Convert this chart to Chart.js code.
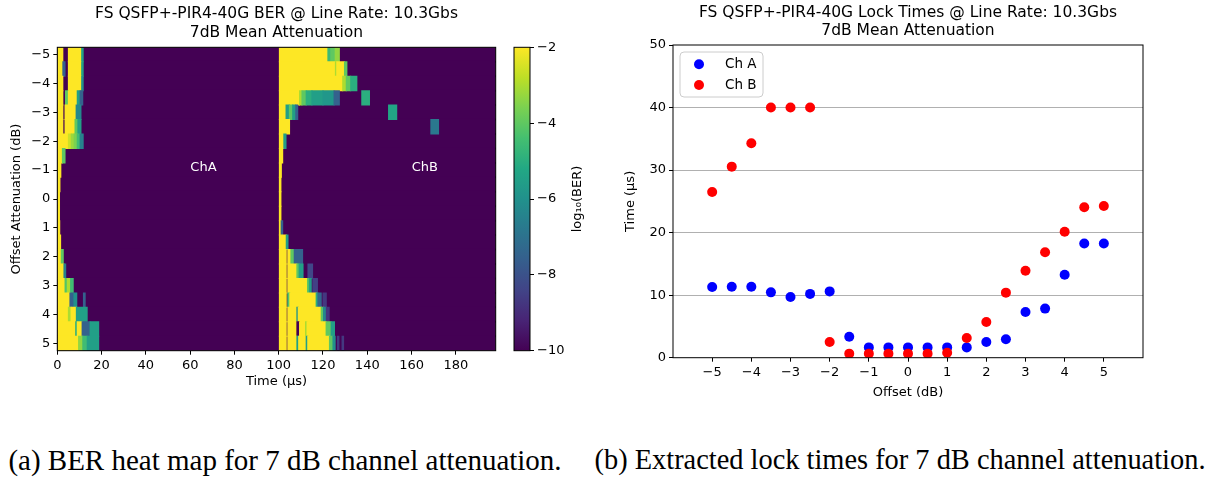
<!DOCTYPE html>
<html>
<head>
<meta charset="utf-8">
<script src="https://cdn.jsdelivr.net/npm/chart.js@4.4.1/dist/chart.umd.min.js"></script>
<style>
  html, body { margin: 0; padding: 0; background: #fff; overflow: hidden; width: 1214px; height: 477px; }
  canvas { position: absolute; top: 0; display: block; }
  .cap { position: absolute; top: 444px; font-family: 'Liberation Serif', 'Times New Roman', serif;
         line-height: 1.107; white-space: nowrap; transform: translateX(-50%); color: #000; }
</style>
</head>
<body>
<canvas id="ber" width="553" height="400" style="left:0"></canvas>
<canvas id="cbar" width="100" height="400" style="left:500px"></canvas>
<canvas id="lock" width="596" height="410" style="left:610px"></canvas>
<div class="cap" style="left:285px;font-size:29px">(a) BER heat map for 7 dB channel attenuation.</div>
<div class="cap" style="left:900px;font-size:28.4px">(b) Extracted lock times for 7 dB channel attenuation.</div>
<script>
// ---- heat map: offset rows and log10(BER) runs [tStart, tEnd, log10BER] per row ----
const offsets = [-5, -4.5, -4, -3.5, -3, -2.5, -2, -1.5, -1, -0.5, 0, 0.5, 1, 1.5, 2, 2.5, 3, 3.5, 4, 4.5, 5];

const chA = [
  [[0, 2.5, -2], [5.0, 11.0, -2], [11.0, 11.7, -5.5]],
  [[0, 2.5, -2], [2.5, 3.5, -7.5], [5.0, 11.0, -2], [11.0, 11.7, -5.5]],
  [[0, 2.5, -2], [5.0, 11.0, -2], [11.0, 11.7, -6]],
  [[0, 2.5, -2], [3.7, 5.0, -4], [5.0, 9.0, -2], [9.0, 10.3, -5.5], [10.3, 11.5, -7.5]],
  [[0, 2.5, -2], [3.5, 8.5, -2], [8.5, 10.7, -6.3]],
  [[0, 2.5, -2], [3.5, 8.0, -2], [8.0, 9.3, -4], [9.3, 10.7, -5.5]],
  [[0, 5.0, -2], [5.0, 6.3, -2.6], [6.3, 7.6, -3.2], [7.6, 9.0, -3.6], [9.0, 10.3, -4.5], [10.3, 11.7, -6.5]],
  [[0, 2.3, -2], [2.3, 3.5, -4]],
  [[0, 1.6, -2]],
  [[0, 1.2, -2]],
  [[0, 1.0, -2]],
  [[0, 1.0, -2]],
  [[0, 1.1, -2]],
  [[0, 1.5, -2]],
  [[0, 1.8, -2], [1.8, 2.7, -4]],
  [[0, 3.0, -2], [3.0, 3.8, -6.5]],
  [[0, 3.5, -2], [3.5, 4.5, -4.2], [4.5, 6.0, -3], [6.0, 7.2, -4.5]],
  [[0, 5.7, -2], [5.7, 7.5, -7.5], [7.5, 8.8, -6], [11.8, 12.6, -7.5]],
  [[0, 5.0, -2], [5.0, 6.2, -3], [6.2, 8.6, -2], [8.6, 13.5, -5.5]],
  [[0, 8.3, -2], [8.3, 9.0, -5], [9.0, 11.2, -2], [11.2, 14.8, -7.5], [14.8, 18.7, -5.5]],
  [[0, 9.6, -2], [9.6, 11.5, -3.3], [11.5, 13.5, -4.5], [13.5, 18.7, -5.5]]
];

const chB = [
  [[100.3, 122.2, -2], [122.2, 123.5, -4.6], [123.5, 125.5, -4], [125.5, 127.4, -3.3]],
  [[100.3, 125.6, -2], [125.6, 126.2, -3], [126.2, 129.7, -2], [129.7, 130.8, -4]],
  [[100.3, 128.9, -2], [128.9, 130.5, -3], [130.5, 132.5, -4], [132.5, 135.3, -5]],
  [[100.3, 109.4, -2], [109.4, 110.5, -3], [110.5, 112.4, -4], [112.4, 115.0, -5], [115.0, 120.0, -5.5],
   [120.0, 125.0, -5.8], [125.0, 127.4, -7.5], [137.5, 141.0, -5]],
  [[100.3, 103.3, -2], [103.3, 104.8, -5.5], [104.8, 106.3, -4], [106.3, 107.7, -5.5], [107.7, 108.6, -7.5], [149.6, 153.3, -5.3]],
  [[100.3, 104.9, -2], [168.7, 172.2, -6.8]],
  [[100.3, 102.3, -2], [102.3, 103.3, -5.5]],
  [[100.3, 101.8, -2]],
  [[100.3, 101.2, -2]],
  [[100.3, 101.0, -2]],
  [[100.3, 101.0, -2]],
  [[100.3, 101.0, -2]],
  [[100.3, 101.1, -2], [101.1, 101.8, -7.5]],
  [[100.3, 103.4, -2], [103.4, 104.2, -5.5]],
  [[100.3, 103.4, -2], [104.1, 105.5, -2], [105.5, 107.0, -4], [107.0, 110.8, -7.5]],
  [[100.3, 103.4, -2], [104.1, 108.2, -2], [108.2, 109.2, -4], [109.2, 111.0, -5.5], [113.2, 115.3, -8.3]],
  [[100.3, 103.4, -2], [104.1, 113.0, -2], [113.0, 113.8, -4], [113.8, 114.7, -5.5], [115.4, 117.5, -8.5]],
  [[100.3, 103.4, -2], [104.1, 105.0, -4.2], [105.0, 116.9, -2], [116.9, 117.7, -5], [117.7, 119.2, -7.3], [120.0, 121.5, -8.7]],
  [[100.3, 103.4, -2], [104.1, 108.2, -2], [108.2, 108.8, -6], [108.8, 119.2, -2], [119.2, 120.2, -4],
   [120.2, 121.5, -6.3], [121.5, 122.8, -8.8]],
  [[100.3, 103.4, -2], [104.1, 108.2, -2], [108.2, 109.4, -10], [109.4, 112.1, -2], [112.1, 112.8, -3],
   [112.8, 121.4, -2], [121.4, 123.7, -4], [123.7, 125.2, -5.5]],
  [[100.3, 103.4, -2], [104.1, 108.2, -2], [108.2, 109.0, -5.5], [109.0, 112.4, -2], [112.4, 113.1, -5.5],
   [113.1, 122.9, -2], [122.9, 124.5, -4], [124.5, 125.5, -6], [126.5, 127.2, -8.7], [128.6, 129.3, -8.7]]
];

const berFloor = -10;
const timeRange = [0, 198];
const timeTicks = [0, 20, 40, 60, 80, 100, 120, 140, 160, 180];
const offsetTicks = [-5, -4, -3, -2, -1, 0, 1, 2, 3, 4, 5];
const cbTicks = [-10, -8, -6, -4, -2];
const chNames = [{ text: 'ChA', t: 66, o: -1.1 }, { text: 'ChB', t: 166, o: -1.1 }];

// ---- lock times (µs) per offset ----
const lockOffsets = [-5, -4.5, -4, -3.5, -3, -2.5, -2, -1.5, -1, -0.5, 0, 0.5, 1, 1.5, 2, 2.5, 3, 3.5, 4, 4.5, 5];
const lockA = [11.3, 11.35, 11.35, 10.45, 9.7, 10.2, 10.6, 3.35, 1.65, 1.65, 1.65, 1.65, 1.65, 1.65, 2.5, 2.95, 7.3, 7.85, 13.25, 18.25, 18.25];
const lockB = [26.5, 30.55, 34.3, 40, 40, 40, 2.5, 0.65, 0.65, 0.65, 0.65, 0.65, 0.8, 3.15, 5.7, 10.4, 13.9, 16.85, 20.15, 24.05, 24.25];
const lockXTicks = [-5, -4, -3, -2, -1, 0, 1, 2, 3, 4, 5];
const lockYTicks = [0, 10, 20, 30, 40, 50];

// ---- viridis colour map ----
const VIRIDIS = ['#440154', '#482475', '#414487', '#355f8d', '#2a788e', '#21918c',
                 '#22a884', '#44bf70', '#7ad151', '#bddf26', '#fde725'];
const hexRgb = h => [1, 3, 5].map(i => parseInt(h.slice(i, i + 2), 16));
function viridis(v) {
  let f = (v - cbTicks[0]) / (cbTicks[cbTicks.length - 1] - cbTicks[0]);
  f = Math.max(0, Math.min(1, f)) * (VIRIDIS.length - 1);
  const i = Math.min(Math.floor(f), VIRIDIS.length - 2), w = f - i;
  const a = hexRgb(VIRIDIS[i]), b = hexRgb(VIRIDIS[i + 1]);
  const c = a.map((x, k) => Math.round(x + (b[k] - x) * w));
  return `rgb(${c[0]},${c[1]},${c[2]})`;
}
const cellColor = c => (c.raw ? viridis(c.raw.v) : VIRIDIS[0]);
const fmt = v => (v < 0 ? '\u2212' + Math.abs(v) : String(v));

Chart.defaults.font.family = "'DejaVu Sans', sans-serif";
Chart.defaults.font.size = 13;
Chart.defaults.color = '#000';

// black box round the plot area
const framePlugin = {
  id: 'frame',
  afterDraw(chart) {
    const a = chart.chartArea, ctx = chart.ctx;
    ctx.save();
    ctx.strokeStyle = '#000';
    ctx.lineWidth = 1;
    ctx.strokeRect(a.left, a.top, a.right - a.left, a.bottom - a.top);
    ctx.restore();
  }
};

// two-line title centred over the plot area (not the whole canvas)
const areaTitle = {
  id: 'areaTitle',
  afterDraw(chart, args, opts) {
    if (!opts.lines) return;
    const { ctx, chartArea: a } = chart;
    ctx.save();
    ctx.fillStyle = '#000';
    ctx.font = `${opts.size}px 'DejaVu Sans'`;
    ctx.textAlign = 'center';
    ctx.textBaseline = 'middle';
    opts.lines.forEach((t, i) => ctx.fillText(t, (a.left + a.right) / 2, opts.y[i]));
    ctx.restore();
  }
};

const tickGrid = { drawOnChartArea: false, tickLength: 4, tickColor: '#000', tickWidth: 1, offset: false };
const setTicks = vals => s => { s.ticks = vals.map(v => ({ value: v })); };

// ---- heat map ----
const toBars = rows => rows.flatMap((row, i) => row.map(s => ({ y: offsets[i], x: [s[0], s[1]], v: s[2] })));
const channelLabels = {
  id: 'channelLabels',
  afterDatasetsDraw(chart) {
    const { ctx, scales: { x, y } } = chart;
    ctx.save();
    ctx.fillStyle = '#fff';
    ctx.font = "13px 'DejaVu Sans'";
    ctx.textAlign = 'center';
    ctx.textBaseline = 'middle';
    chNames.forEach(n => ctx.fillText(n.text, x.getPixelForValue(n.t), y.getPixelForValue(n.o)));
    ctx.restore();
  }
};

const cellStyle = { backgroundColor: cellColor, borderWidth: 0, grouped: false, barPercentage: 1,
                    categoryPercentage: 1, inflateAmount: 0.5 };

new Chart(document.getElementById('ber'), {
  type: 'bar',
  data: {
    datasets: [
      { label: 'ChA', data: toBars(chA), order: 0, ...cellStyle },
      { label: 'ChB', data: toBars(chB), order: 0, ...cellStyle },
      { label: 'floor', data: offsets.map(o => ({ y: o, x: timeRange.slice(), v: berFloor })), order: 1,
        ...cellStyle, inflateAmount: 1 }
    ]
  },
  options: {
    responsive: false, animation: false, indexAxis: 'y',
    layout: { padding: { left: 0, right: 57.3, top: 47.3, bottom: 0 } },
    plugins: {
      colors: { enabled: false },
      legend: { display: false }, tooltip: { enabled: false }, title: { display: false },
      areaTitle: { lines: ['FS QSFP+-PIR4-40G BER @ Line Rate: 10.3Gbs', '7dB Mean Attenuation'],
                   size: 15.5, y: [14, 32.5] }
    },
    scales: {
      x: { type: 'linear', min: timeRange[0], max: timeRange[1], afterBuildTicks: setTicks(timeTicks),
           ticks: { autoSkip: false, maxRotation: 0, padding: 3, callback: fmt },
           grid: tickGrid, border: { display: false },
           title: { display: true, text: 'Time (μs)', padding: { top: 0, bottom: 10.5 } },
           afterFit: s => { s.height = 49.3; } },
      y: { type: 'linear', min: -5.25, max: 5.25, reverse: true, offset: false, afterBuildTicks: setTicks(offsetTicks),
           ticks: { autoSkip: false, padding: 3, callback: fmt },
           grid: tickGrid, border: { display: false },
           title: { display: true, text: 'Offset Attenuation (dB)', padding: { top: 9, bottom: 0 } },
           afterFit: s => { s.width = 57.3; } }
    }
  },
  plugins: [channelLabels, framePlugin, areaTitle]
});

// ---- colour bar ----
const cbLabel = {
  id: 'cbLabel',
  afterDraw(chart) {
    const { ctx, chartArea: a } = chart;
    ctx.save();
    ctx.translate(78, (a.top + a.bottom) / 2);
    ctx.rotate(-Math.PI / 2);
    ctx.fillStyle = '#000';
    ctx.font = "13px 'DejaVu Sans'";
    ctx.textAlign = 'center';
    ctx.textBaseline = 'middle';
    ctx.fillText('log\u2081\u2080(BER)', 0, 0);
    ctx.restore();
  }
};
new Chart(document.getElementById('cbar'), {
  type: 'bar',
  data: { labels: ['log10(BER)'], datasets: [{ data: [[cbTicks[0], cbTicks[cbTicks.length - 1]]],
    borderWidth: 0, barPercentage: 1, categoryPercentage: 1,
    backgroundColor: c => {
      const a = c.chart.chartArea;
      if (!a) return VIRIDIS[0];
      const g = c.chart.ctx.createLinearGradient(0, a.bottom, 0, a.top);
      VIRIDIS.forEach((col, i) => g.addColorStop(i / (VIRIDIS.length - 1), col));
      return g;
    } }] },
  options: {
    responsive: false, animation: false,
    layout: { padding: { left: 14, right: 0, top: 47.3, bottom: 49.3 } },
    plugins: { colors: { enabled: false }, legend: { display: false }, tooltip: { enabled: false }, title: { display: false } },
    scales: {
      x: { display: false },
      y: { position: 'right', min: cbTicks[0], max: cbTicks[cbTicks.length - 1], afterBuildTicks: setTicks(cbTicks),
           ticks: { autoSkip: false, padding: 3, callback: fmt },
           grid: tickGrid, border: { display: false },
           afterFit: s => { s.width = 70; } }
    }
  },
  plugins: [framePlugin, cbLabel]
});

// ---- lock times scatter ----
const boxLegend = {
  id: 'boxLegend',
  afterDraw(chart) {
    const { ctx, chartArea: a } = chart;
    const x0 = a.left + 7, y0 = a.top + 7, w = 83, h = 45, r = 4;
    ctx.save();
    ctx.beginPath();
    ctx.roundRect(x0, y0, w, h, r);
    ctx.fillStyle = 'rgba(255,255,255,0.8)';
    ctx.fill();
    ctx.strokeStyle = '#cccccc';
    ctx.lineWidth = 1;
    ctx.stroke();
    ctx.font = "13.5px 'DejaVu Sans'";
    ctx.textBaseline = 'middle';
    chart.data.datasets.forEach((ds, i) => {
      const yy = y0 + 12.3 + i * 20.7;
      ctx.beginPath();
      ctx.arc(a.left + 26, yy, 5, 0, Math.PI * 2);
      ctx.fillStyle = ds.backgroundColor;
      ctx.fill();
      ctx.fillStyle = '#000';
      ctx.fillText(ds.label, a.left + 52, yy);
    });
    ctx.restore();
  }
};

new Chart(document.getElementById('lock'), {
  type: 'scatter',
  data: {
    datasets: [
      { label: 'Ch A', data: lockOffsets.map((x, i) => ({ x, y: lockA[i] })), backgroundColor: '#0000ff', order: 1 },
      { label: 'Ch B', data: lockOffsets.map((x, i) => ({ x, y: lockB[i] })), backgroundColor: '#ff0000', order: 0 }
    ]
  },
  options: {
    responsive: false, animation: false,
    layout: { padding: { left: 0, right: 63, top: 45, bottom: 0 } },
    elements: { point: { radius: 5, borderWidth: 0, hoverRadius: 5 } },
    plugins: {
      colors: { enabled: false },
      legend: { display: false }, tooltip: { enabled: false }, title: { display: false },
      areaTitle: { lines: ['FS QSFP+-PIR4-40G Lock Times @ Line Rate: 10.3Gbs', '7dB Mean Attenuation'],
                   size: 15.5, y: [12.5, 31] }
    },
    scales: {
      x: { type: 'linear', min: -6, max: 6, afterBuildTicks: setTicks(lockXTicks),
           ticks: { autoSkip: false, maxRotation: 0, padding: 3, callback: fmt },
           grid: tickGrid, border: { display: false },
           title: { display: true, text: 'Offset (dB)', padding: { top: 0, bottom: 9.5 } },
           afterFit: s => { s.height = 52.3; } },
      y: { type: 'linear', min: 0, max: 50, afterBuildTicks: setTicks(lockYTicks),
           ticks: { autoSkip: false, padding: 3, callback: fmt },
           grid: { drawOnChartArea: true, tickLength: 4, tickColor: '#000', lineWidth: 1,
                   color: c => (c.tick && (c.tick.value === 0 || c.tick.value === 50) ? 'rgba(0,0,0,0)' : '#b0b0b0') },
           border: { display: false },
           title: { display: true, text: 'Time (μs)', padding: { top: 12.5, bottom: 0 } },
           afterFit: s => { s.width = 63; } }
    }
  },
  plugins: [framePlugin, boxLegend, areaTitle]
});
</script>
</body>
</html>
